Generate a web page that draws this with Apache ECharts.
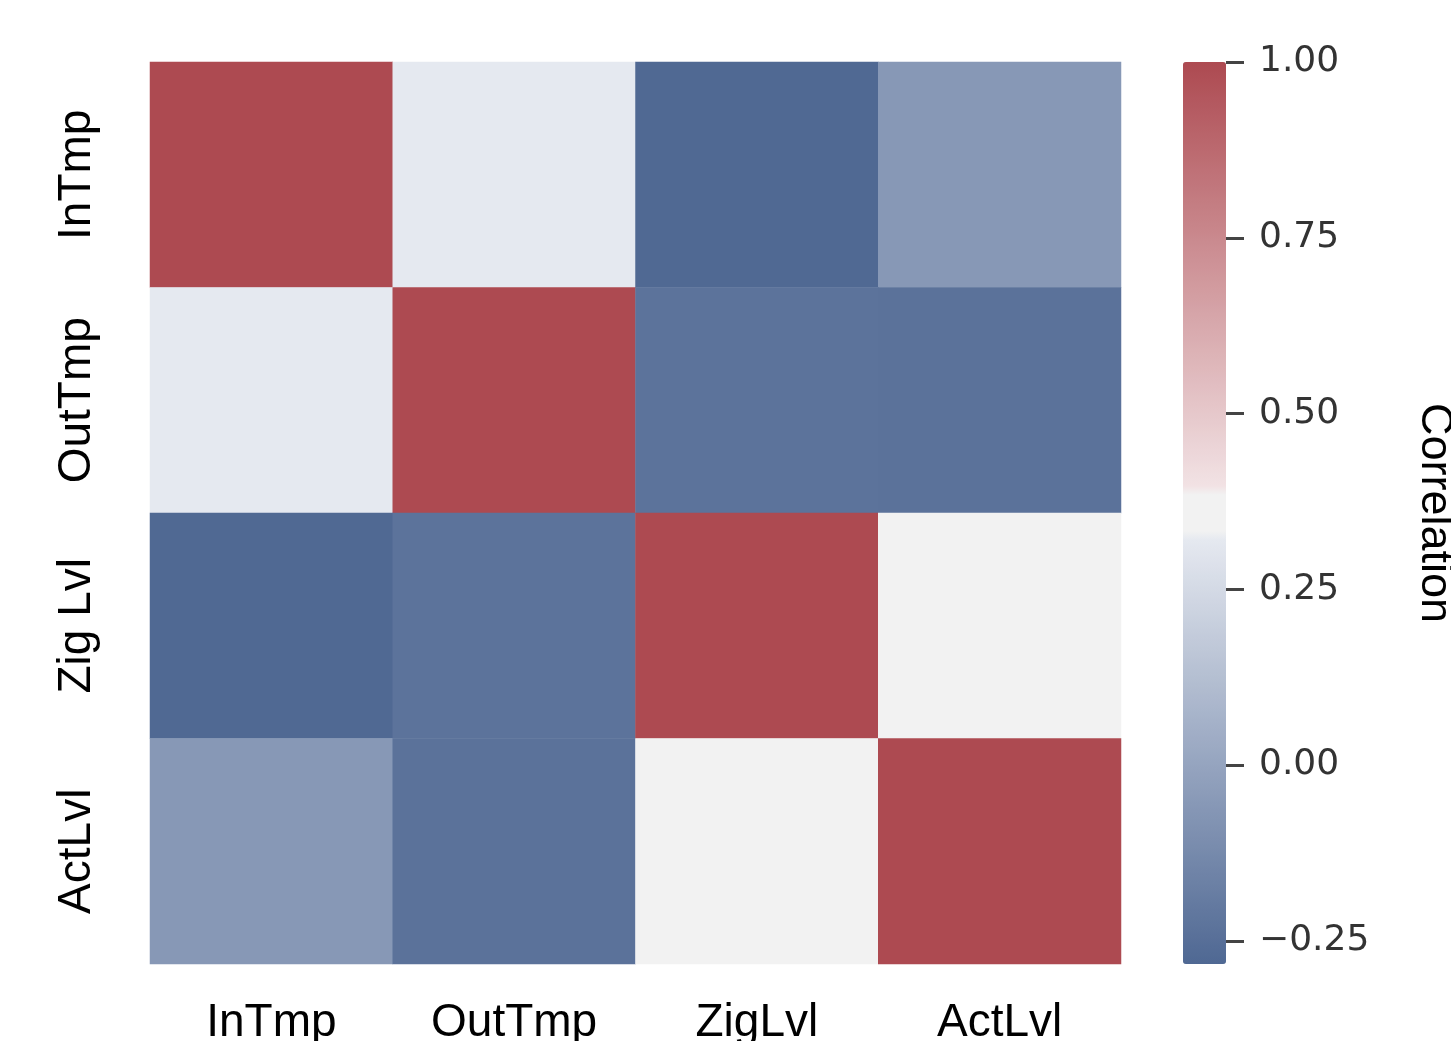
<!DOCTYPE html>
<html>
<head>
<meta charset="utf-8">
<script src="https://cdn.jsdelivr.net/npm/echarts@6/dist/echarts.min.js"></script>
<style>
html,body{margin:0;padding:0;background:#fff;}
#chart{width:1451px;height:1041px;}
</style>
</head>
<body>
<div id="chart"></div>
<script>
// ---- data ----
const xCategories = ['InTmp', 'OutTmp', 'ZigLvl', 'ActLvl'];
const yCategories = ['InTmp', 'OutTmp', 'Zig Lvl', 'ActLvl'];
const rowInTmp  = [1.00, 0.32, -0.28, -0.06];
const rowOutTmp = [0.32, 1.00, -0.23, -0.235];
const rowZigLvl = [-0.28, -0.23, 1.00, 0.36];
const rowActLvl = [-0.06, -0.235, 0.36, 1.00];
const colorbarTicks = [-0.25, 0, 0.25, 0.5, 0.75, 1.0];
const colorMin = -0.283;
const colorMax = 1.0;

// ---- colormap (styling) ----
const anchors = [
  [0.0, [79, 104, 147]],
  [0.479, [232, 235, 242]],
  [0.48, [242, 242, 242]],
  [0.52, [242, 242, 242]],
  [0.521, [243, 229, 231]],
  [1.0, [173, 74, 81]]
];
function cmap(t) {
  for (let i = 0; i < anchors.length - 1; i++) {
    const [t0, c0] = anchors[i], [t1, c1] = anchors[i + 1];
    if (t >= t0 && t <= t1) {
      const f = (t - t0) / (t1 - t0 || 1);
      const c = c0.map((v, k) => Math.round(v + (c1[k] - v) * f));
      return 'rgb(' + c.join(',') + ')';
    }
  }
  return 'rgb(' + anchors[anchors.length - 1][1].join(',') + ')';
}
const stops = [];
for (let i = 0; i <= 1000; i++) stops.push(cmap(i / 1000));

const rows = [rowInTmp, rowOutTmp, rowZigLvl, rowActLvl];
const heatData = [];
rows.forEach((row, yi) => row.forEach((v, xi) => heatData.push([xi, yi, v])));

const chart = echarts.init(document.getElementById('chart'));
chart.setOption({
  backgroundColor: '#ffffff',
  animation: false,
  grid: [
    {left: 150, top: 62, width: 971, height: 902, outerBoundsMode: 'none', containLabel: false},
    {left: 1183, top: 62, width: 43, height: 902, outerBoundsMode: 'none', containLabel: false, z: 10}
  ],
  xAxis: [
    {
      type: 'category', gridIndex: 0, data: xCategories,
      axisLine: {show: false}, axisTick: {show: false}, splitLine: {show: false},
      axisLabel: {fontFamily: 'Liberation Sans', fontSize: 46, color: '#000', margin: 36}
    },
    {type: 'value', gridIndex: 1, show: false, min: 0, max: 1}
  ],
  yAxis: [
    {
      type: 'category', gridIndex: 0, data: yCategories, inverse: true,
      axisLine: {show: false}, axisTick: {show: false}, splitLine: {show: false},
      axisLabel: {fontFamily: 'Liberation Sans', fontSize: 46, color: '#000', margin: 50, rotate: 90}
    },
    {
      type: 'value', gridIndex: 1, position: 'right', min: colorMin, max: colorMax, z: 10,
      axisLine: {show: false, onZero: false}, splitLine: {show: false},
      axisTick: {show: true, inside: false, length: 18, lineStyle: {color: '#444', width: 3}, customValues: colorbarTicks},
      axisLabel: {
        fontFamily: 'DejaVu Sans', fontSize: 36, color: '#333', margin: 33,
        padding: [8, 0, 0, 0],
        customValues: colorbarTicks,
        formatter: v => (v < 0 ? '\u2212' + Math.abs(v).toFixed(2) : v.toFixed(2))
      },
      name: 'Correlation', nameLocation: 'middle', nameRotate: -90, nameGap: 186,
      nameTextStyle: {fontFamily: 'Liberation Sans', fontSize: 45, color: '#000'}
    }
  ],
  visualMap: {
    type: 'continuous', min: colorMin, max: colorMax, seriesIndex: 0,
    calculable: false, hoverLink: false, realtime: false, z: 1,
    orient: 'vertical', left: 1183, top: 62, padding: 0,
    itemWidth: 43, itemHeight: 902,
    inRange: {color: stops}
  },
  series: [
    {
      type: 'heatmap', xAxisIndex: 0, yAxisIndex: 0, data: heatData,
      itemStyle: {borderWidth: 0},
      emphasis: {disabled: true}
    }
  ]
});
</script>
</body>
</html>
